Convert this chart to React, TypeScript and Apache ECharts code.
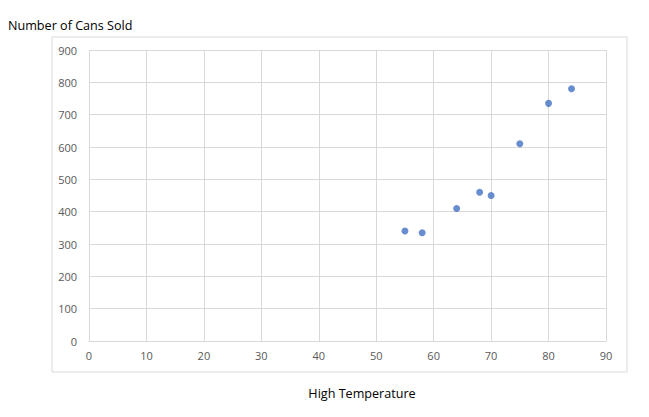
import React, { useEffect, useRef } from "react";
import * as echarts from "echarts";

const temperatures = [55, 58, 64, 68, 70, 75, 80, 84];
const cansSold = [340, 335, 410, 460, 450, 610, 735, 780];
const chartTitle = "Number of Cans Sold";
const xAxisTitle = "High Temperature";

export default function App() {
  const ref = useRef<HTMLDivElement>(null);
  useEffect(() => {
    if (!ref.current) return;
    const chart = echarts.init(ref.current, null, { renderer: "svg" });
    const font = "'Open Sans', 'Liberation Sans', sans-serif";
    chart.setOption({
      animation: false,
      backgroundColor: "#ffffff",
      grid: { left: 89, right: 43, top: 50, bottom: 76 },
      xAxis: {
        type: "value",
        min: 0,
        max: 90,
        interval: 10,
        axisLine: { show: true, lineStyle: { color: "#d9d9d9", width: 1 } },
        axisTick: { show: false },
        splitLine: { show: true, lineStyle: { color: "#d9d9d9", width: 1 } },
        axisLabel: { color: "#595959", fontSize: 11, fontFamily: font, margin: 9 },
      },
      yAxis: {
        type: "value",
        min: 0,
        max: 900,
        interval: 100,
        axisLine: { show: false },
        axisTick: { show: false },
        splitLine: { show: true, lineStyle: { color: "#d9d9d9", width: 1 } },
        axisLabel: { color: "#595959", fontSize: 11, fontFamily: font, margin: 12 },
      },
      graphic: [
        {
          type: "rect",
          shape: { x: 52, y: 37, width: 575, height: 335 },
          style: { fill: "none", stroke: "#d9d9d9", lineWidth: 1 },
          silent: true,
          z: -1,
        },
        {
          type: "text",
          left: 8,
          top: 19,
          style: { text: chartTitle, fill: "#000000", font: `12.6px ${font}` },
        },
        {
          type: "text",
          x: 362,
          y: 393,
          style: {
            text: xAxisTitle,
            fill: "#000000",
            font: `12.6px ${font}`,
            align: "center",
            verticalAlign: "middle",
          },
        },
      ],
      series: [
        {
          type: "scatter",
          data: temperatures.map((t, i) => [t, cansSold[i]]),
          symbol: "circle",
          symbolSize: 7,
          itemStyle: { color: "#4472c4" },
        },
      ],
    });
    return () => chart.dispose();
  }, []);
  return <div ref={ref} style={{ width: 649, height: 417, position: "absolute", left: 0, top: 0 }} />;
}
